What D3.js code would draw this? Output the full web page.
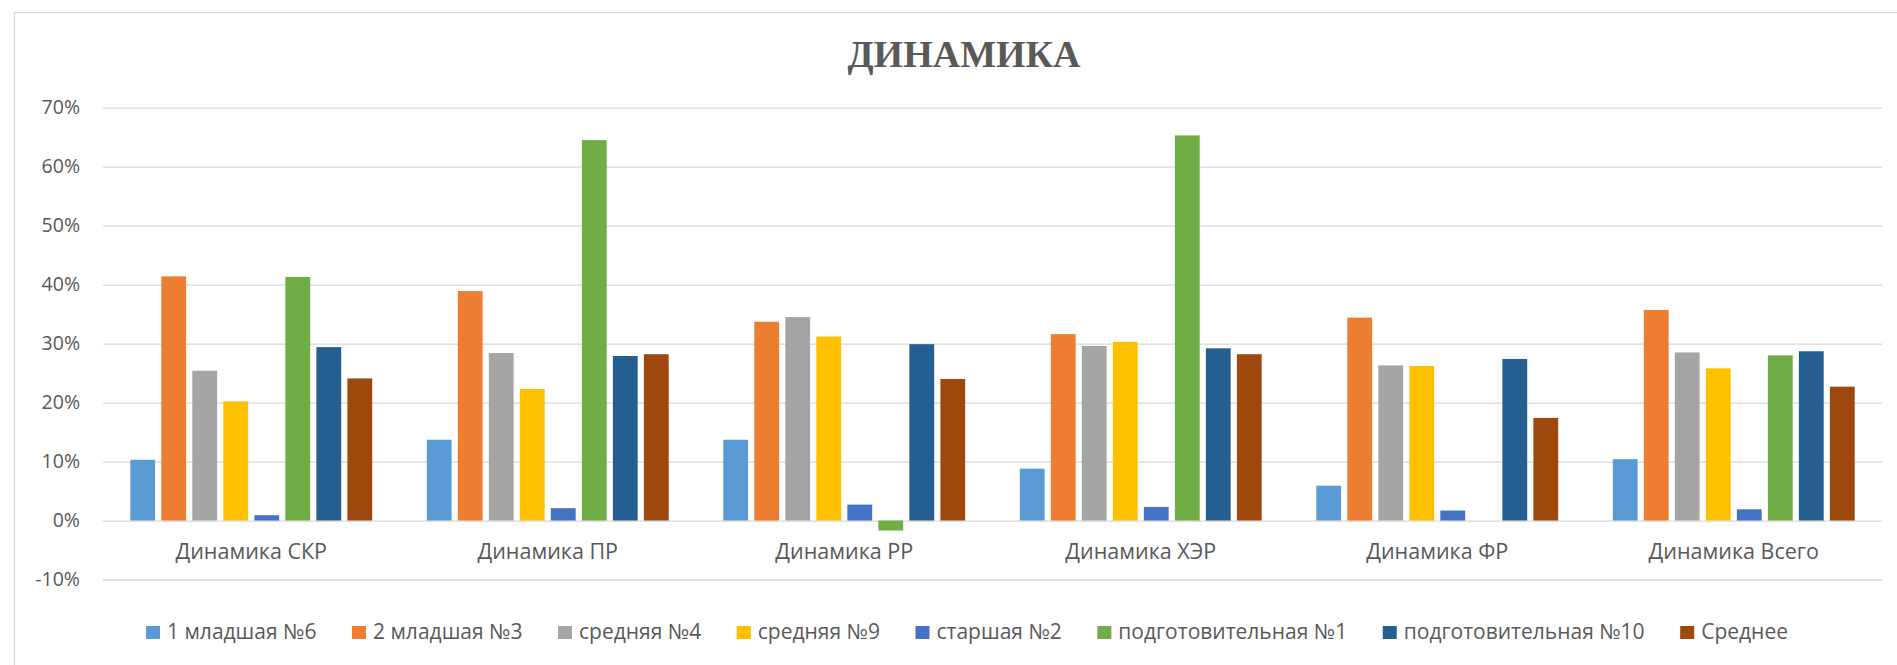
<!DOCTYPE html>
<html>
<head>
<meta charset="utf-8">
<script src="https://cdn.jsdelivr.net/npm/d3@7"></script>
<style>
  body { margin: 0; background: #fff; }
  svg { display: block; }
</style>
</head>
<body>
<svg id="container"></svg>
<script>
// categories along the x axis
const categories = ["Динамика СКР", "Динамика ПР", "Динамика РР", "Динамика ХЭР", "Динамика ФР", "Динамика Всего"]

// one series per group
const groups = ["1 младшая №6", "2 младшая №3", "средняя №4", "средняя №9", "старшая №2", "подготовительная №1", "подготовительная №10", "Среднее"]

// values in %
const mladshaya6 = [10.3, 13.7, 13.7, 8.8, 5.9, 10.4]
const mladshaya3 = [41.4, 38.9, 33.7, 31.6, 34.4, 35.7]
const srednyaya4 = [25.4, 28.4, 34.5, 29.6, 26.3, 28.5]
const srednyaya9 = [20.2, 22.3, 31.2, 30.3, 26.2, 25.8]
const starshaya2 = [0.9, 2.1, 2.7, 2.3, 1.7, 1.9]
const podgot1 = [41.3, 64.5, -1.7, 65.3, 0, 28.0]
const podgot10 = [29.4, 27.9, 29.9, 29.2, 27.4, 28.7]
const srednee = [24.1, 28.2, 24.0, 28.2, 17.4, 22.7]

const seriesValues = [mladshaya6, mladshaya3, srednyaya4, srednyaya9, starshaya2, podgot1, podgot10, srednee]

const yTicks = [-0.1, 0, 0.1, 0.2, 0.3, 0.4, 0.5, 0.6, 0.7]

const colors = ["#5B9BD5", "#ED7D31", "#A5A5A5", "#FFC000", "#4472C4", "#70AD47", "#255E91", "#9E480E"]

const width = 1897
const height = 665
const font = "'Open Sans', 'Noto Sans', sans-serif"
const textColor = "#595959"
const gridColor = "#D9D9D9"

const setup = () => {
	const svg = d3.select("#container")
	   .attr("width", width)
	   .attr("height", height)

	// chart area border
	svg.append("rect")
	   .attr("x", 14.5)
	   .attr("y", 12.5)
	   .attr("width", 1920)
	   .attr("height", 700)
	   .attr("fill", "#fff")
	   .attr("stroke", gridColor)
	   .attr("stroke-width", 1.3)

	const plot = { left: 103, right: 1882, top: 107.7, bottom: 579.5 }

	const x0 = d3.scaleBand()
	             .domain(categories)
	             .range([plot.left, plot.right])

	const x1 = d3.scaleBand()
	             .domain(groups)
	             .range([0, x0.bandwidth()])
	             .paddingInner(0.2)
	             .paddingOuter(0.88)

	const y = d3.scaleLinear()
	            .domain([-0.1, 0.7])
	            .range([plot.bottom, plot.top])

	// gridlines and y labels
	const yAxis = d3.axisLeft(y)
	                .tickValues(yTicks)
	                .tickSize(-(plot.right - plot.left))
	                .tickPadding(23)
	                .tickFormat(d => Math.round(d * 100) + "%")

	const gy = svg.append("g")
	   .attr("transform", `translate(${plot.left},0)`)
	   .call(yAxis)
	gy.select(".domain").remove()
	gy.selectAll(".tick line")
	  .attr("stroke", gridColor)
	  .attr("stroke-width", 1.3)
	gy.selectAll(".tick text")
	  .attr("fill", textColor)
	  .attr("font-family", font)
	  .attr("font-size", 19.5)

	// bars
	const groupG = svg.append("g")
	   .selectAll("g")
	   .data(seriesValues)
	   .join("g")
	   .attr("fill", (d, i) => colors[i])

	groupG.selectAll("rect")
	   .data((vals, i) => vals.map((v, j) => ({ cat: categories[j], group: groups[i], value: v / 100 })))
	   .join("rect")
	   .attr("x", d => x0(d.cat) + x1(d.group))
	   .attr("width", x1.bandwidth())
	   .attr("y", d => y(Math.max(0, d.value)))
	   .attr("height", d => Math.abs(y(d.value) - y(0)))

	// category labels
	svg.append("g")
	   .selectAll("text")
	   .data(categories)
	   .join("text")
	   .attr("x", d => x0(d) + x0.bandwidth() / 2)
	   .attr("y", 559)
	   .attr("text-anchor", "middle")
	   .attr("fill", textColor)
	   .attr("font-family", font)
	   .attr("font-size", 21.5)
	   .text(d => d)

	// title
	svg.append("text")
	   .attr("x", 964)
	   .attr("y", 66.5)
	   .attr("text-anchor", "middle")
	   .attr("fill", textColor)
	   .attr("font-family", "'Liberation Serif', 'Times New Roman', serif")
	   .attr("font-weight", "bold")
	   .attr("font-size", 38)
	   .text("ДИНАМИКА")

	// legend, spread over the same span as in the original
	const legend = svg.append("g")
	const items = legend.selectAll("g")
	   .data(groups)
	   .join("g")
	items.append("rect")
	   .attr("width", 14)
	   .attr("height", 13)
	   .attr("y", 626)
	   .attr("fill", (d, i) => colors[i])
	items.append("text")
	   .attr("x", 21)
	   .attr("y", 639)
	   .attr("fill", textColor)
	   .attr("font-family", font)
	   .attr("font-size", 21)
	   .text(d => d)

	const legendLeft = 146
	const legendRight = 1788
	const widths = []
	items.each(function () {
		widths.push(21 + d3.select(this).select("text").node().getComputedTextLength())
	})
	const gap = (legendRight - legendLeft - d3.sum(widths)) / (widths.length - 1)
	let pos = legendLeft
	items.attr("transform", (d, i) => {
		const t = `translate(${pos},0)`
		pos += widths[i] + gap
		return t
	})
}

document.addEventListener("DOMContentLoaded", setup)
</script>
</body>
</html>
